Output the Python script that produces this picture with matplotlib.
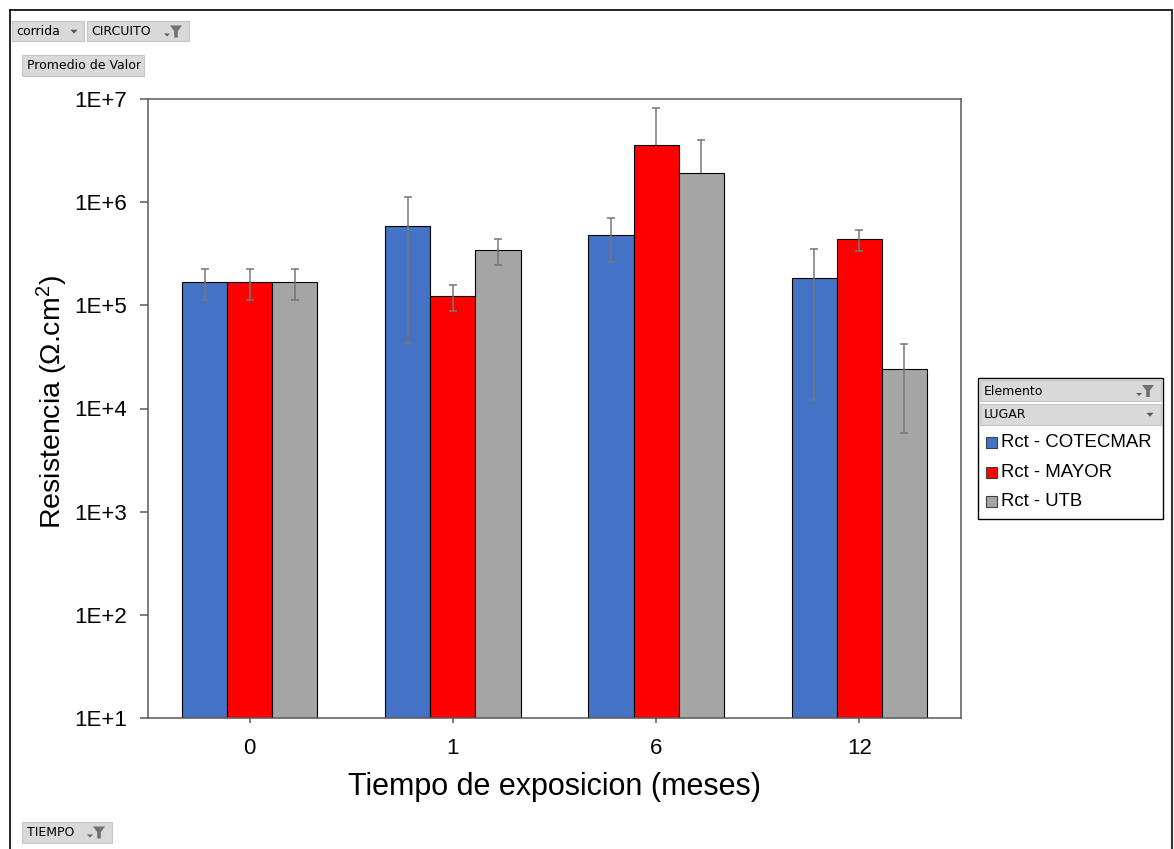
import numpy as np
import matplotlib
matplotlib.use("Agg")
import matplotlib.pyplot as plt
from matplotlib.patches import Rectangle, Polygon
from matplotlib.ticker import FixedLocator, FuncFormatter, NullLocator

# ---- data -------------------------------------------------------------
categories = ["0", "1", "6", "12"]
series = ["Rct - COTECMAR", "Rct - MAYOR", "Rct - UTB"]
colors = ["#4472C4", "#FF0000", "#A5A5A5"]

cotecmar = [168000, 588000, 481000, 183000]
mayor = [168000, 122000, 3580000, 440000]
utb = [168000, 344000, 1905000, 24000]

cotecmar_sd = [56000, 545000, 220000, 171000]
mayor_sd = [56000, 34000, 4600000, 100000]
utb_sd = [56000, 100000, 2100000, 18200]

values = [cotecmar, mayor, utb]
errors = [cotecmar_sd, mayor_sd, utb_sd]

# ---- figure -----------------------------------------------------------
W, H = 1174, 849
plt.rcParams["font.family"] = ["Liberation Sans", "DejaVu Sans"]
plt.rcParams["mathtext.fontset"] = "custom"
plt.rcParams["mathtext.rm"] = "Liberation Sans"
plt.rcParams["mathtext.it"] = "Liberation Sans:italic"

fig = plt.figure(figsize=(W / 100, H / 100), dpi=100)
fig.patch.set_facecolor("white")

ax = fig.add_axes([148 / W, 1 - 718 / H, 813 / W, 619 / H])
ax.set_yscale("log")

x = np.arange(len(categories))
width = 0.222
offsets = [-width, 0.0, width]

for vals, errs, col, off, name in zip(values, errors, colors, offsets, series):
    ax.bar(x + off, vals, width, color=col, edgecolor="black",
           linewidth=0.8, zorder=2, label=name)
    for xi, v, e in zip(x + off, vals, errs):
        lo = e if v - e > 0 else 0
        _, caps, _ = ax.errorbar(xi, v, yerr=[[lo], [e]], fmt="none",
                                 ecolor="#767676", elinewidth=1.1,
                                 capsize=3.2, capthick=1.1, zorder=3)
        if lo == 0:
            caps[0].set_visible(False)

ax.set_xlim(-0.5, len(categories) - 0.5)
ax.set_ylim(1e1, 1e7)
ax.set_xticks(x)
ax.set_xticklabels(categories)
ax.yaxis.set_major_locator(FixedLocator([10.0 ** k for k in range(1, 8)]))
ax.yaxis.set_major_formatter(FuncFormatter(lambda v, p: f"1E+{int(round(np.log10(v)))}"))
ax.yaxis.set_minor_locator(NullLocator())

for s in ax.spines.values():
    s.set_color("#595959")
    s.set_linewidth(1.1)

ax.tick_params(axis="y", direction="out", length=5.8, width=1.1,
               color="#595959", pad=9, labelsize=16)
ax.tick_params(axis="x", direction="out", length=3.6, width=1.1,
               color="#595959", pad=11, labelsize=16)

ax.set_ylabel("Resistencia (Ω.cm$^{2}$)", fontsize=20.5)
ax.yaxis.set_label_coords(-0.096, 0.511)
ax.set_xlabel("Tiempo de exposicion (meses)", fontsize=22)
ax.xaxis.set_label_coords(0.5, -0.088)

# ---- pivot-chart field buttons, frame and legend ----------------------
ov = fig.add_axes([0, 0, 1, 1], zorder=5)
ov.set_xlim(0, W)
ov.set_ylim(H, 0)
ov.axis("off")
ov.patch.set_alpha(0)

# outer frame
ov.plot([10, 10], [10, H + 5], color="black", lw=1.2)
ov.plot([10, 1172], [10, 10], color="black", lw=1.2)
ov.plot([1172, 1172], [10, H + 5], color="#333333", lw=1.5)

btn_font = dict(family="DejaVu Sans", fontsize=9, color="black", va="center")


def button(x0, y0, x1, y1):
    ov.add_patch(Rectangle((x0, y0), x1 - x0, y1 - y0, facecolor="#d9d9d9",
                           edgecolor="#c4c4c4", lw=0.8))


def drop_arrow(cx, cy, size=3.5):
    ov.add_patch(Polygon([[cx - size, cy - size * 0.5], [cx + size, cy - size * 0.5],
                          [cx, cy + size * 0.6]], closed=True,
                         facecolor="#555555", edgecolor="none"))


def funnel(cx, cy):
    # small dropdown mark followed by the filter funnel
    ov.add_patch(Polygon([[cx - 12, cy + 2], [cx - 6, cy + 2], [cx - 9, cy + 5]],
                         closed=True, facecolor="#606060", edgecolor="none"))
    ov.add_patch(Polygon([[cx - 6, cy - 6], [cx + 6, cy - 6], [cx + 1.8, cy - 0.5],
                          [cx + 1.8, cy + 6], [cx - 1.8, cy + 6], [cx - 1.8, cy - 0.5]],
                         closed=True, facecolor="#707070", edgecolor="none"))


button(12, 21, 84, 41)
ov.text(16, 31.5, "corrida", **btn_font)
drop_arrow(74, 31.5)

button(87, 21, 189, 41)
ov.text(91, 31.5, "CIRCUITO", **btn_font)
funnel(176, 31.5)

button(22, 55, 144, 76)
ov.text(27, 65.5, "Promedio de Valor", **btn_font)

button(22, 822, 112, 843)
ov.text(27, 832.5, "TIEMPO", **btn_font)
funnel(99, 832.5)

# legend box
ov.add_patch(Rectangle((978, 378), 185, 141, facecolor="white",
                       edgecolor="black", lw=1.0))
button(980, 380, 1161, 401)
ov.text(984, 391, "Elemento", **btn_font)
funnel(1148, 391)
button(980, 404, 1161, 425)
ov.text(984, 414.5, "LUGAR", **btn_font)
drop_arrow(1150, 414.5)

for i, (name, col) in enumerate(zip(series, colors)):
    cy = 442.7 + i * 29.5
    ov.add_patch(Rectangle((986, cy - 5.5), 11, 11, facecolor=col,
                           edgecolor="#404040", lw=0.8))
    ov.text(1001, cy, name, fontsize=13.4, va="center", ha="left")

fig.savefig("out.png", dpi=100, facecolor="white")
